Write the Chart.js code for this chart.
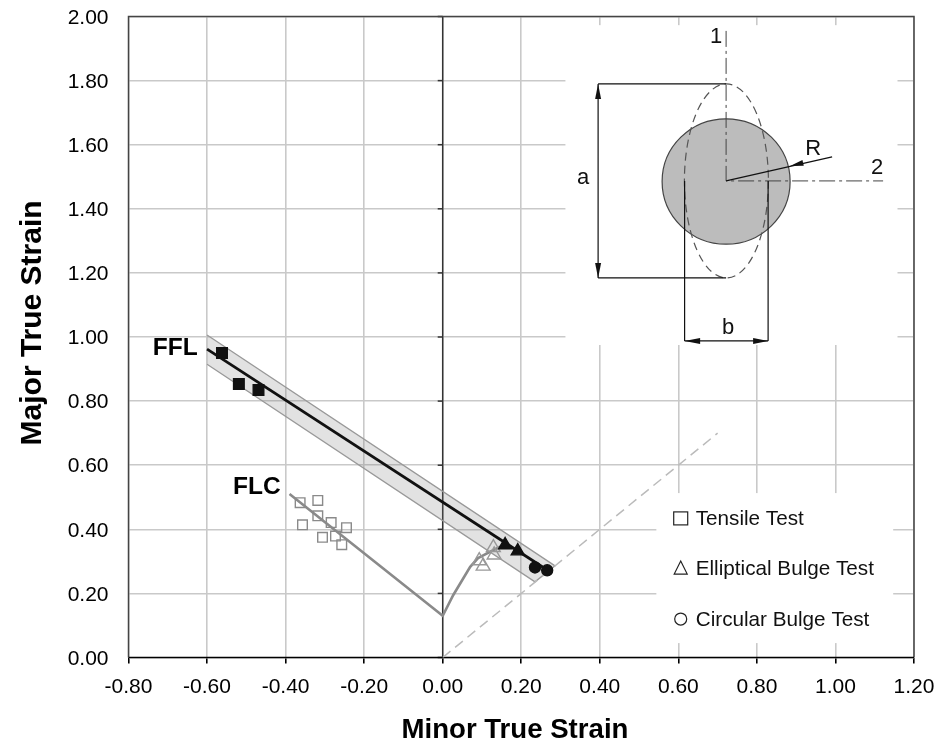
<!DOCTYPE html>
<html><head><meta charset="utf-8">
<style>html,body{margin:0;padding:0;background:#fff}canvas{display:block}</style>
<script src="https://cdn.jsdelivr.net/npm/chart.js@4"></script></head>
<body><canvas id="c" width="938" height="743"></canvas>
<script>
const FONT='"Liberation Sans", Arial, sans-serif';
const xTicks=[-0.8,-0.6,-0.4,-0.2,0,0.2,0.4,0.6,0.8,1.0,1.2];
const yTicks=[0,0.2,0.4,0.6,0.8,1.0,1.2,1.4,1.6,1.8,2.0];
const tensileX=[-0.363,-0.318,-0.318,-0.284,-0.357,-0.245,-0.306,-0.273,-0.257];
const tensileY=[0.483,0.490,0.442,0.421,0.414,0.405,0.375,0.379,0.352];
const ellipOpenX=[0.093,0.103,0.129,0.131];
const ellipOpenY=[0.302,0.285,0.343,0.320];
const fractureSqX=[-0.562,-0.519,-0.469];
const fractureSqY=[0.950,0.853,0.835];
const fractureTriX=[0.159,0.191];
const fractureTriY=[0.351,0.332];
const fractureCircX=[0.235,0.266];
const fractureCircY=[0.281,0.272];
const fflX=[-0.6,0.27];
const fflY=[0.962,0.27];
const bandX=[-0.6,0.286,0.235,-0.6];
const bandY=[1.006,0.286,0.236,0.915];
const flcX=[-0.39,0,0.027,0.07,0.09,0.146];
const flcY=[0.51,0.13,0.195,0.283,0.31,0.346];
const diagX=[0,0.7];
const diagY=[0,0.7];
const xy=(xs,ys)=>xs.map((x,i)=>({x,y:ys[i]}));
const pts=(xs,ys,style,r,fill,stroke)=>({type:'scatter',data:xy(xs,ys),showLine:false,pointStyle:style,pointRadius:r,pointHoverRadius:r,
  pointBackgroundColor:fill,pointBorderColor:stroke,pointBorderWidth:1.4});
const line=(xs,ys,color,w,dash,extra)=>Object.assign({type:'scatter',data:xy(xs,ys),showLine:true,pointRadius:0,borderColor:color,borderWidth:w,borderDash:dash||[],tension:0,fill:false},extra||{});

function arrow(g,tx,ty,bx,by,hw){
  const a=Math.atan2(ty-by,tx-bx),nx=-Math.sin(a),ny=Math.cos(a);
  g.beginPath();g.moveTo(tx,ty);g.lineTo(bx+nx*hw,by+ny*hw);g.lineTo(bx-nx*hw,by-ny*hw);g.closePath();g.fill();
}
const noPad=a=>{a.paddingTop=0;a.paddingBottom=0;a.paddingLeft=0;a.paddingRight=0;};
const backdrop={id:'backdrop',beforeDatasetsDraw(ch){
  const g=ch.ctx,X=ch.scales.x,Y=ch.scales.y,A=ch.chartArea;
  g.save();
  g.fillStyle='#fff';
  const r=(x0,y0,x1,y1)=>{const a=X.getPixelForValue(x0),b=Y.getPixelForValue(y0),c=X.getPixelForValue(x1),d=Y.getPixelForValue(y1);g.fillRect(a,b,c-a,d-b);};
  r(0.3125,1.973,1.158,0.975);
  r(0.544,0.513,1.147,0.045);
  const x0=X.getPixelForValue(0);
  g.strokeStyle='#333';g.lineWidth=1.5;
  g.beginPath();g.moveTo(x0,A.top);g.lineTo(x0,A.bottom);g.stroke();
  Y.ticks.forEach(t=>{const p=Y.getPixelForValue(t.value);g.beginPath();g.moveTo(x0-5,p);g.lineTo(x0,p);g.stroke();});
  g.strokeStyle='#444';g.lineWidth=1.5;
  g.beginPath();g.moveTo(A.left,A.bottom);g.lineTo(A.left,A.top);g.lineTo(A.right,A.top);g.lineTo(A.right,A.bottom);g.stroke();
  g.strokeStyle='#000';g.beginPath();g.moveTo(A.left,A.bottom);g.lineTo(A.right,A.bottom);g.stroke();
  const cx=X.getPixelForValue(0.7216),cy=Y.getPixelForValue(1.487);
  g.fillStyle='#bcbcbc';g.strokeStyle='#444';g.lineWidth=1.2;
  g.beginPath();g.ellipse(cx,cy+0.6,64,62.7,0,0,Math.PI*2);g.fill();g.stroke();
  g.strokeStyle='#555';g.setLineDash([8,5]);
  g.beginPath();g.ellipse(cx+0.3,cy,42,97,0,0,Math.PI*2);g.stroke();
  g.setLineDash([16,4,3,4]);g.strokeStyle='#444';g.lineWidth=1;
  g.beginPath();g.moveTo(cx,cy-150);g.lineTo(cx,cy);g.lineTo(cx+157,cy);g.stroke();
  g.setLineDash([]);g.strokeStyle='#111';g.lineWidth=1.2;g.fillStyle='#111';
  g.beginPath();g.moveTo(cx,cy-97);g.lineTo(cx-128,cy-97);g.moveTo(cx,cy+97);g.lineTo(cx-128,cy+97);
  g.moveTo(cx-128,cy-97);g.lineTo(cx-128,cy+97);
  g.moveTo(cx-41.5,cy);g.lineTo(cx-41.5,cy+160);g.moveTo(cx+42,cy);g.lineTo(cx+42,cy+160);
  g.moveTo(cx-41.5,cy+160);g.lineTo(cx+42,cy+160);
  g.moveTo(cx,cy);g.lineTo(cx+106,cy-24);g.stroke();
  arrow(g,cx-128,cy-97,cx-128,cy-82,3);arrow(g,cx-128,cy+97,cx-128,cy+82,3);
  arrow(g,cx-41.5,cy+160,cx-26,cy+160,3);arrow(g,cx+42,cy+160,cx+27,cy+160,3);
  arrow(g,cx+64,cy-15,cx+77,cy-18,3);
  g.fillStyle='#111';g.font='22px '+FONT;g.textAlign='center';g.textBaseline='middle';
  g.fillText('1',cx-10,cy-144);g.fillText('2',cx+151,cy-13);g.fillText('R',cx+87,cy-32);
  g.fillText('a',cx-143,cy-3);g.fillText('b',cx+2,cy+147);
  const ly=[Y.getPixelForValue(0.434),Y.getPixelForValue(0.279),Y.getPixelForValue(0.12)];
  const kx=X.getPixelForValue(0.606);
  g.strokeStyle='#222';g.lineWidth=1.2;
  g.strokeRect(kx-7,ly[0]-6.5,14,13);
  g.beginPath();g.moveTo(kx,ly[1]-7);g.lineTo(kx+6.5,ly[1]+6);g.lineTo(kx-6.5,ly[1]+6);g.closePath();g.stroke();
  g.beginPath();g.arc(kx,ly[2],6,0,Math.PI*2);g.stroke();
  g.fillStyle='#111';g.font='20.7px '+FONT;g.textAlign='left';
  g.fillText('Tensile Test',kx+15,ly[0]+1);
  g.fillText('Elliptical Bulge Test',kx+15,ly[1]+1);
  g.fillText('Circular Bulge Test',kx+15,ly[2]+1);
  g.font='bold 24.5px '+FONT;g.fillStyle='#000';
  g.fillText('FFL',X.getPixelForValue(-0.738),Y.getPixelForValue(0.965));
  g.fillText('FLC',X.getPixelForValue(-0.534),Y.getPixelForValue(0.53));
  g.textAlign='center';
  g.font='bold 27.6px '+FONT;
  g.fillText('Minor True Strain',X.getPixelForValue(0.184),730);
  g.translate(33,Y.getPixelForValue(1.044));g.rotate(-Math.PI/2);
  g.font='bold 30px '+FONT;
  g.fillText('Major True Strain',0,0);
  g.restore();
}};

new Chart(document.getElementById('c'),{
  type:'scatter',
  data:{datasets:[
    pts(fractureCircX,fractureCircY,'circle',5.5,'#111','#111'),
    pts(fractureTriX,fractureTriY,'triangle',7.5,'#111','#111'),
    pts(fractureSqX,fractureSqY,'rect',7.5,'#111','#111'),
    pts(ellipOpenX,ellipOpenY,'triangle',8,'rgba(255,255,255,0)','#999'),
    pts(tensileX,tensileY,'rect',6.8,'rgba(255,255,255,0)','#8a8a8a'),
    line(fflX,fflY,'#111',2.8),
    line(flcX,flcY,'#8a8a8a',2.6),
    line(diagX,diagY,'#bbb',1.5,[10,6]),
    line(bandX,bandY,'#999',1.3,null,{fill:'shape',backgroundColor:'rgba(120,120,120,0.21)'})
  ]},
  plugins:[backdrop],
  options:{
    responsive:false,animation:false,
    layout:{padding:{top:16.5,right:24,left:0,bottom:0}},
    plugins:{legend:{display:false},tooltip:{enabled:false}},
    scales:{
      x:{type:'linear',min:xTicks[0],max:xTicks[xTicks.length-1],
        afterBuildTicks(a){a.ticks=xTicks.map(value=>({value}));},
        afterFit(a){a.height=85.5;noPad(a);},
        grid:{color:'#c9c9c9',lineWidth:1.6,tickColor:'#000',tickLength:6},border:{display:false},
        ticks:{callback:v=>Number(v).toFixed(2),color:'#000',font:{family:FONT,size:21},padding:11,maxRotation:0,autoSkip:false}},
      y:{type:'linear',min:yTicks[0],max:yTicks[yTicks.length-1],
        afterBuildTicks(a){a.ticks=yTicks.map(value=>({value}));},
        afterFit(a){a.width=128.5;noPad(a);},
        grid:{color:'#c9c9c9',lineWidth:1.6,drawTicks:false},border:{display:false},
        ticks:{callback:v=>Number(v).toFixed(2),color:'#000',font:{family:FONT,size:21},padding:20,labelOffset:1.5,autoSkip:false}}
    }
  }
});
</script></body></html>
